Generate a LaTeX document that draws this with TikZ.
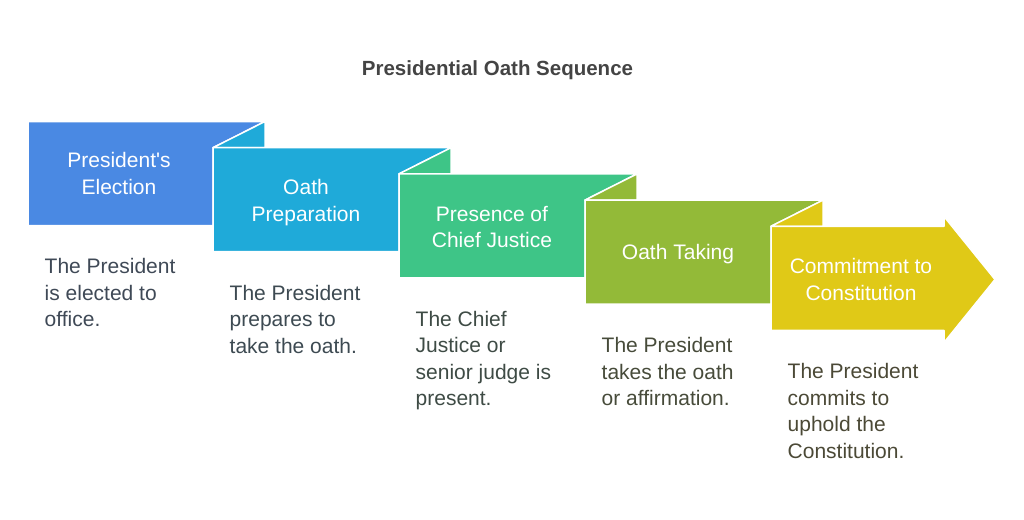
\documentclass[tikz,border=0pt]{standalone}
\usepackage{fontspec}
\setmainfont{Liberation Sans}
\definecolor{stepone}{HTML}{4A89E3}
\definecolor{steptwo}{HTML}{1FAAD9}
\definecolor{stepthree}{HTML}{3EC587}
\definecolor{stepfour}{HTML}{93BA38}
\definecolor{stepfive}{HTML}{E0C917}
\definecolor{titlegray}{HTML}{444444}
\definecolor{noteone}{HTML}{3F4956}
\definecolor{notetwo}{HTML}{3D4A52}
\definecolor{notethree}{HTML}{3E4B45}
\definecolor{notefour}{HTML}{474B3A}
\definecolor{notefive}{HTML}{4B4936}
\tikzset{
  fold/.style={draw=white, line width=1.5pt, line join=round},
  steplabel/.style={text=white, align=center, font=\fontsize{21}{26.5}\selectfont},
  stepnote/.style={anchor=north west, inner sep=0pt, align=left, font=\fontsize{21}{26.5}\selectfont},
}
\begin{document}
\begin{tikzpicture}[x=1pt, y=-1pt]
  \useasboundingbox (0, 0) rectangle (1024, 519);
  \node[anchor=base, text=titlegray, font=\bfseries\fontsize{20.5}{24}\selectfont] (title) at (497.5, 75) {Presidential Oath Sequence};
  % folded steps
  \draw[fold, fill=stepone] (28, 121.5) -- (265, 121.5) -- (213, 147.7) -- (213, 225.5) -- (28, 225.5) -- cycle;
  \draw[fold, fill=steptwo] (213, 147.7) -- (265, 121.5) -- (265, 147.7) -- cycle;
  \draw[fold, fill=steptwo] (213, 147.7) -- (451, 147.7) -- (399, 173.9) -- (399, 251.7) -- (213, 251.7) -- cycle;
  \draw[fold, fill=stepthree] (399, 173.9) -- (451, 147.7) -- (451, 173.9) -- cycle;
  \draw[fold, fill=stepthree] (399, 173.9) -- (637, 173.9) -- (585, 200.1) -- (585, 277.9) -- (399, 277.9) -- cycle;
  \draw[fold, fill=stepfour] (585, 200.1) -- (637, 173.9) -- (637, 200.1) -- cycle;
  \draw[fold, fill=stepfour] (585, 200.1) -- (823, 200.1) -- (771, 226.3) -- (771, 304.1) -- (585, 304.1) -- cycle;
  \draw[fold, fill=stepfive] (771, 226.3) -- (823, 200.1) -- (823, 226.3) -- cycle;
  \draw[fold, fill=stepfive] (771, 226.3) -- (944, 226.3) -- (944, 216.5) -- (995, 279.5) -- (944, 342.5) -- (944, 330.3) -- (771, 330.3) -- cycle;
  % step titles
  \node[steplabel] (election) at (119, 173.5) {President\textquotesingle s\\Election};
  \node[steplabel] (preparation) at (306, 202.7) {Oath\\Preparation};
  \node[steplabel] (presence) at (492, 226.9) {Presence of\\Chief Justice};
  \node[steplabel] (taking) at (678, 254.1) {Oath Taking};
  \node[steplabel] (commitment) at (861, 279.3) {Commitment to\\Constitution};
  % notes below
  \node[stepnote, text=noteone] (electionnote) at (44.5, 258.5) {The President\\is elected to\\office.};
  \node[stepnote, text=notetwo] (preparationnote) at (229.5, 284.7) {The President\\prepares to\\take the oath.};
  \node[stepnote, text=notethree] (presencenote) at (415.5, 310.9) {The Chief\\Justice or\\senior judge is\\present.};
  \node[stepnote, text=notefour] (takingnote) at (601.5, 337.1) {The President\\takes the oath\\or affirmation.};
  \node[stepnote, text=notefive] (commitmentnote) at (787.5, 363.3) {The President\\commits to\\uphold the\\Constitution.};
\end{tikzpicture}
\end{document}
